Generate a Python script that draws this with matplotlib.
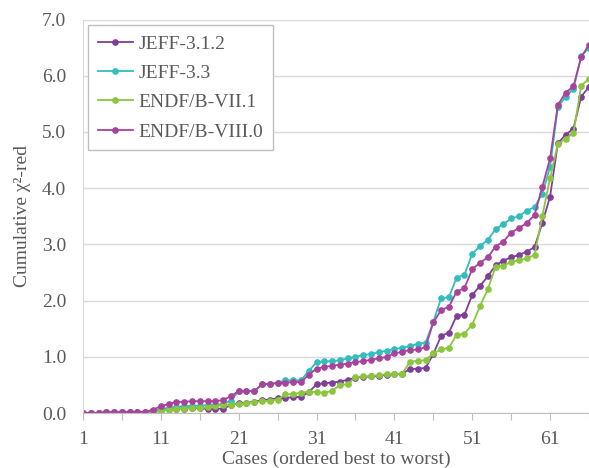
import matplotlib
matplotlib.use("Agg")
import matplotlib.pyplot as plt

plt.rcParams['font.family'] = ['Liberation Serif', 'DejaVu Serif']

cases = list(range(1, 67))

jeff312 = [0.00, 0.00, 0.00, 0.01, 0.01, 0.01, 0.01, 0.01, 0.01, 0.03,
           0.05, 0.07, 0.08, 0.08, 0.09, 0.09, 0.07, 0.07, 0.08, 0.14,
           0.17, 0.18, 0.20, 0.23, 0.24, 0.26, 0.27, 0.28, 0.29, 0.37,
           0.51, 0.53, 0.54, 0.56, 0.59, 0.63, 0.64, 0.65, 0.66, 0.68,
           0.69, 0.70, 0.78, 0.79, 0.80, 1.05, 1.37, 1.43, 1.73, 1.75,
           2.10, 2.26, 2.43, 2.63, 2.71, 2.77, 2.81, 2.87, 2.95, 3.38,
           3.85, 4.80, 4.95, 5.06, 5.63, 5.80]

jeff33 = [0.00, 0.00, 0.00, 0.01, 0.01, 0.01, 0.01, 0.00, 0.00, 0.04,
          0.07, 0.09, 0.11, 0.12, 0.13, 0.13, 0.14, 0.15, 0.16, 0.22,
          0.39, 0.39, 0.39, 0.51, 0.52, 0.54, 0.58, 0.58, 0.58, 0.75,
          0.90, 0.92, 0.92, 0.94, 0.97, 1.00, 1.03, 1.05, 1.08, 1.11,
          1.14, 1.16, 1.19, 1.23, 1.25, 1.62, 2.04, 2.06, 2.41, 2.46,
          2.83, 2.97, 3.08, 3.27, 3.36, 3.46, 3.50, 3.60, 3.66, 3.90,
          4.38, 5.45, 5.62, 5.77, 6.35, 6.50]

endf71 = [0.00, 0.00, 0.00, 0.00, 0.00, 0.00, 0.00, 0.00, 0.00, 0.01,
          0.04, 0.06, 0.07, 0.08, 0.09, 0.09, 0.10, 0.12, 0.14, 0.15,
          0.16, 0.17, 0.19, 0.21, 0.22, 0.24, 0.33, 0.34, 0.36, 0.38,
          0.37, 0.36, 0.39, 0.50, 0.51, 0.64, 0.65, 0.66, 0.67, 0.69,
          0.69, 0.70, 0.91, 0.93, 0.94, 1.06, 1.13, 1.16, 1.39, 1.41,
          1.57, 1.90, 2.20, 2.60, 2.62, 2.69, 2.72, 2.75, 2.81, 3.50,
          4.18, 4.78, 4.88, 4.98, 5.82, 5.95]

endf80 = [0.00, 0.00, 0.00, 0.02, 0.02, 0.02, 0.02, 0.02, 0.02, 0.06,
          0.12, 0.16, 0.20, 0.20, 0.21, 0.21, 0.21, 0.21, 0.23, 0.30,
          0.39, 0.39, 0.39, 0.51, 0.52, 0.53, 0.54, 0.55, 0.55, 0.68,
          0.79, 0.82, 0.84, 0.86, 0.88, 0.91, 0.92, 0.95, 0.97, 1.00,
          1.06, 1.09, 1.12, 1.13, 1.17, 1.61, 1.83, 1.89, 2.16, 2.22,
          2.56, 2.67, 2.77, 2.96, 3.05, 3.21, 3.29, 3.38, 3.52, 4.02,
          4.53, 5.48, 5.70, 5.81, 6.33, 6.55]

names = ['JEFF-3.1.2', 'JEFF-3.3', 'ENDF/B-VII.1', 'ENDF/B-VIII.0']
colors = ['#7f3f98', '#33bdbd', '#8cc63e', '#a8439c']
series = [jeff312, jeff33, endf71, endf80]

xticks = list(range(1, 67, 5))
xticklabels = [str(t) if (t - 1) % 10 == 0 else '' for t in xticks]
yticks = [0, 1, 2, 3, 4, 5, 6, 7]

txt = '#595959'
grey = '#bfbfbf'

fig = plt.figure(figsize=(5.89, 4.68), dpi=100)
ax = fig.add_axes([83 / 589, 55 / 468, 506 / 589, 393.5 / 468])

for vals, name, c in zip(series, names, colors):
    ax.plot(cases, vals, color=c, lw=1.3, marker='o', ms=3.8, label=name)

ax.set_xlim(1, 65.8)
ax.set_ylim(0, 7)
ax.set_xticks(xticks)
ax.set_xticklabels(xticklabels)
ax.set_yticks(yticks)
ax.set_yticklabels(['%.1f' % v for v in yticks])

ax.yaxis.grid(True, color='#d9d9d9', lw=1)
ax.set_axisbelow(True)
for s in ['top', 'right']:
    ax.spines[s].set_visible(False)
ax.spines['left'].set_color('#d9d9d9')
ax.spines['bottom'].set_color(grey)

ax.tick_params(axis='y', length=0, pad=12, labelsize=14, labelcolor=txt)
ax.tick_params(axis='x', length=5, color=grey, pad=8, labelsize=14, labelcolor=txt)

ax.set_xlabel('Cases (ordered best to worst)', fontsize=14, color=txt, labelpad=2)
ax.set_ylabel('Cumulative χ²-red', fontsize=14, color=txt, labelpad=8)

leg = ax.legend(loc='upper left', bbox_to_anchor=(0.01, 0.985), borderaxespad=0,
                fontsize=14, handlelength=1.8, labelspacing=0.6, fancybox=False,
                framealpha=1, edgecolor=grey, borderpad=0.5, handletextpad=0.3)
for t in leg.get_texts():
    t.set_color(txt)

fig.savefig('out.png', dpi=100)
